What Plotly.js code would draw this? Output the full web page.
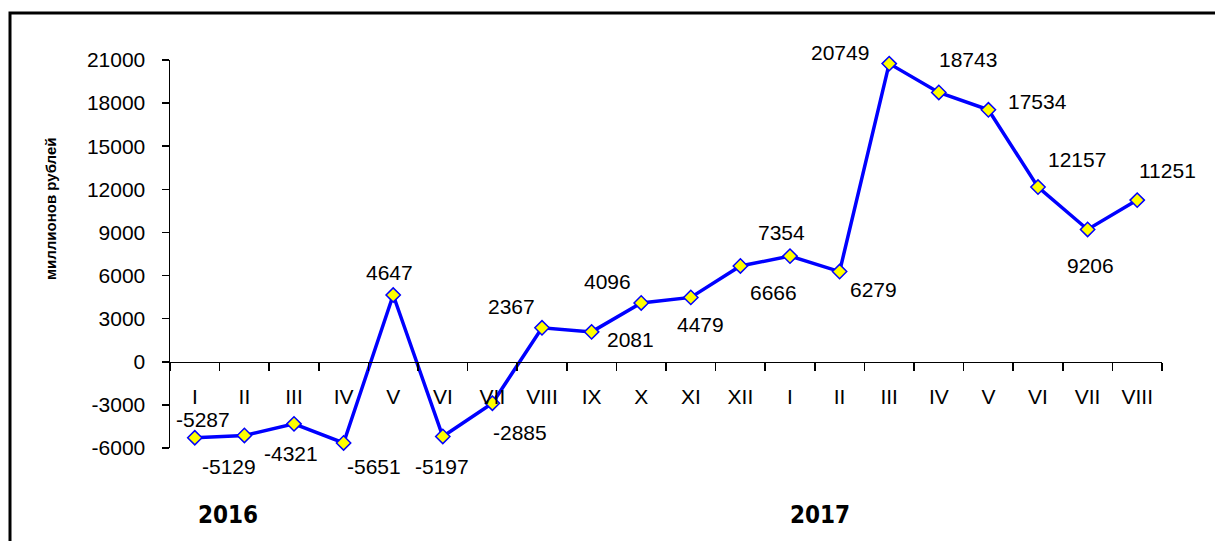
<!DOCTYPE html>
<html>
<head>
<meta charset="utf-8">
<script src="https://cdn.plot.ly/plotly-3.0.1.min.js"></script>
<style>html,body{margin:0;padding:0;background:#fff;}#chart{width:1215px;height:541px;}</style>
</head>
<body>
<div id="chart"></div>
<script>
// Data
const months = ['I','II','III','IV','V','VI','VII','VIII','IX','X','XI','XII',
                'I','II','III','IV','V','VI','VII','VIII'];
const values = [-5287,-5129,-4321,-5651,4647,-5197,-2885,2367,2081,4096,4479,6666,
                7354,6279,20749,18743,17534,12157,9206,11251];
const years = ['2016','2017'];
const yTicks = [-6000,-3000,0,3000,6000,9000,12000,15000,18000,21000];
const yTitle = 'миллионов рублей';

// Label offsets in pixels (layout only)
const labelOffsets = [[8,-18],[-15,31],[-3,30],[30,24],[-4,-23],[-1,30],[28,29],[-31,-21],
  [39,8],[-34,-21],[10,27],[33,27],[-9,-24],[34,18],[-49,-11],[29,-33],[49,-8],[39,-28],[3,36],[30,-30]];

const idx = months.map((_, i) => i);
const boundaries = months.map((_, i) => i - 0.5).concat([months.length - 0.5]);
const FONT = 'Liberation Sans, Arial, sans-serif';
const COND = 'DejaVu Sans Condensed, Liberation Sans, sans-serif';

const trace = {
  x: idx, y: values, type: 'scatter', mode: 'lines+markers',
  line: {color: '#0000FF', width: 3.5},
  marker: {symbol: 'diamond', size: 11, color: '#FFFF00', line: {color: '#0000FF', width: 1.5}},
  hoverinfo: 'skip', cliponaxis: false
};

const annotations = values.map((v, i) => ({
  x: i, y: v, xref: 'x', yref: 'y', text: String(v), showarrow: false,
  xanchor: 'center', yanchor: 'middle',
  xshift: labelOffsets[i][0], yshift: -labelOffsets[i][1],
  font: {family: FONT, size: 21, color: '#000'}
}));

const yMin = -6000, yMax = 21000;
annotations.push({
  xref: 'paper', yref: 'paper', x: (50 - 170) / 992, y: (448 - 209) / 388,
  text: '<b>' + yTitle + '</b>', showarrow: false, textangle: -90,
  xanchor: 'center', yanchor: 'middle',
  font: {family: FONT, size: 15, color: '#000'}
});
const yearX = [228, 820];
years.forEach((yr, k) => annotations.push({
  xref: 'paper', yref: 'paper', x: (yearX[k] - 170) / 992, y: (448 - 515) / 388,
  text: '<b>' + yr + '</b>', showarrow: false, xanchor: 'center', yanchor: 'middle',
  font: {family: COND, size: 24, color: '#000'}
}));

const layout = {
  width: 1215, height: 541,
  margin: {l: 170, r: 53, t: 60, b: 93},
  paper_bgcolor: '#fff', plot_bgcolor: '#fff',
  showlegend: false,
  font: {family: FONT, size: 21, color: '#000'},
  xaxis: {
    range: [-0.5, months.length - 0.5], anchor: 'free',
    position: (0 - yMin) / (yMax - yMin),
    tickmode: 'array', tickvals: idx, ticktext: months, ticks: '',
    ticklabelstandoff: 16,
    showline: true, linecolor: '#000', linewidth: 1.5,
    showgrid: false, zeroline: false,
    tickfont: {family: FONT, size: 21, color: '#000'},
    minor: {tickmode: 'array', tickvals: boundaries, ticks: 'outside', ticklen: 8, tickcolor: '#000', tickwidth: 1.5, showgrid: false}
  },
  yaxis: {
    range: [yMin, yMax], tickmode: 'array', tickvals: yTicks, ticktext: yTicks.map(String),
    ticks: 'outside', ticklen: 7, tickwidth: 1.5, tickcolor: '#000',
    showline: true, linecolor: '#000', linewidth: 1.5,
    showgrid: false, zeroline: false, ticklabelstandoff: 12,
    tickfont: {family: FONT, size: 21, color: '#000'}
  },
  annotations: annotations,
  shapes: [{
    type: 'rect', xref: 'paper', yref: 'paper',
    x0: (10 - 170) / 992, x1: (1240 - 170) / 992,
    y0: (448 - 570) / 388, y1: (448 - 13) / 388,
    line: {color: '#000', width: 3}, fillcolor: 'rgba(0,0,0,0)', layer: 'below'
  }]
};

Plotly.newPlot('chart', [trace], layout, {displayModeBar: false, staticPlot: true});
</script>
</body>
</html>
